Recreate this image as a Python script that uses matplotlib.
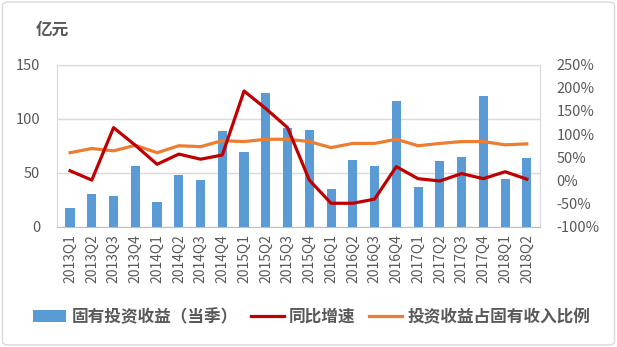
import numpy as np
import matplotlib.pyplot as plt
from matplotlib.patches import FancyBboxPatch
from matplotlib.ticker import FuncFormatter

plt.rcParams['font.family'] = ['Noto Sans CJK SC', 'DejaVu Sans']

quarters = ["2013Q1", "2013Q2", "2013Q3", "2013Q4", "2014Q1", "2014Q2", "2014Q3", "2014Q4",
            "2015Q1", "2015Q2", "2015Q3", "2015Q4", "2016Q1", "2016Q2", "2016Q3", "2016Q4",
            "2017Q1", "2017Q2", "2017Q3", "2017Q4", "2018Q1", "2018Q2"]
invest_income = [17.5, 30.4, 28.6, 56.3, 23.1, 48.0, 43.3, 88.5, 69.2, 123.6, 91.3, 89.5,
                 35.0, 61.8, 56.3, 116.2, 36.9, 60.9, 64.6, 120.8, 44.3, 63.6]
yoy_growth = [21, 1, 114, 76, 35, 57, 46, 55, 193, 155, 114, 1,
              -49, -49, -40, 30, 4, -1, 15, 4, 19, 3]
income_share = [60, 69, 64, 76, 60, 75, 73, 86, 84, 89, 89, 84,
                71, 80, 80, 89, 75, 80, 84, 84, 77, 79]

grey = "#595959"
fig = plt.figure(figsize=(6.17, 3.47), dpi=100)
fig.patches.append(FancyBboxPatch((0.004, 0.006), 0.992, 0.988, boxstyle="round,pad=0,rounding_size=0.01",
                                  transform=fig.transFigure, fill=False, edgecolor="#d9d9d9", lw=1))
ax = fig.add_axes([0.0924, 0.346, 0.7826, 0.468])
x = np.arange(len(quarters))
b = ax.bar(x, invest_income, width=0.42, color="#5B9BD5", zorder=2, label="固有投资收益（当季）")
ax.set_ylim(0, 150)
ax.set_yticks([0, 50, 100, 150])
ax.set_xlim(-0.6, len(quarters) - 0.4)
ax.grid(axis="y", color="#d9d9d9", lw=1, zorder=0)
for s in ax.spines.values():
    s.set_color("#d9d9d9")
ax.spines["bottom"].set_color("#bfbfbf")
ax.tick_params(axis="y", length=0, labelsize=10.5, labelcolor=grey, pad=12)
ax.tick_params(axis="x", length=0, labelsize=10, labelcolor=grey, pad=5)
ax.set_xticks(x)
ax.set_xticklabels(quarters, rotation=90)

ax2 = ax.twinx()
l1, = ax2.plot(x, yoy_growth, color="#C00000", lw=2.3, label="同比增速", zorder=4)
l2, = ax2.plot(x, income_share, color="#ED7D31", lw=2.3, label="投资收益占固有收入比例", zorder=3)
ax2.set_ylim(-100, 250)
ax2.set_yticks(np.arange(-100, 251, 50))
ax2.yaxis.set_major_formatter(FuncFormatter(lambda v, p: f"{v:.0f}%"))
ax2.tick_params(axis="y", length=0, labelsize=10.5, labelcolor=grey, pad=12)
for s in ax2.spines.values():
    s.set_visible(False)

fig.text(0.058, 0.915, "亿元", fontsize=12, fontweight="bold", color=grey, va="center")
fig.legend(handles=[b, l1, l2], loc="center", bbox_to_anchor=(0.505, 0.087), ncol=3, frameon=False,
           prop={"size": 12, "weight": "bold"}, labelcolor=grey, handlelength=2.0,
           handletextpad=0.3, columnspacing=0.8)
fig.savefig("out.png", dpi=100)
